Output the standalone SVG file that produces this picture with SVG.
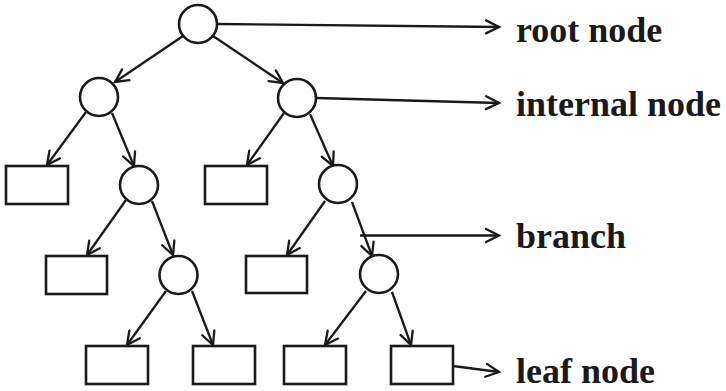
<svg xmlns="http://www.w3.org/2000/svg" width="726" height="391" viewBox="0 0 726 391">
<defs>
<marker id="arr" markerUnits="userSpaceOnUse" markerWidth="20" markerHeight="20" viewBox="-16 -10 20 20" refX="0" refY="0" orient="auto">
<path d="M-13,-6.5 L0,0 L-13,6.5" fill="none" stroke="#1a1a1a" stroke-width="2.3" stroke-linecap="round" stroke-linejoin="miter"/>
</marker>
<style>
.n{fill:#fff;stroke:#1a1a1a;stroke-width:2.6}
.e{fill:none;stroke:#1a1a1a;stroke-width:2.3;marker-end:url(#arr)}
.t{font-family:"Liberation Serif","Times New Roman",serif;font-weight:bold;font-size:36px;fill:#1a1a1a}
</style>
</defs>
<rect width="726" height="391" fill="#fff"/>
<g id="connectors">
<line class="e" x1="183" y1="36" x2="115" y2="82"/>
<line class="e" x1="213" y1="36" x2="283" y2="83"/>
<line class="e" x1="86" y1="112" x2="47" y2="165"/>
<line class="e" x1="112" y1="113" x2="134" y2="166"/>
<line class="e" x1="284" y1="113" x2="247" y2="165"/>
<line class="e" x1="310" y1="114" x2="333" y2="166"/>
<line class="e" x1="126" y1="200" x2="87" y2="255"/>
<line class="e" x1="152" y1="201" x2="173" y2="255"/>
<line class="e" x1="325" y1="201" x2="287" y2="255"/>
<line class="e" x1="352" y1="202" x2="372" y2="256"/>
<line class="e" x1="166" y1="291" x2="127" y2="345"/>
<line class="e" x1="192" y1="291" x2="213" y2="345"/>
<line class="e" x1="366" y1="291" x2="325" y2="345"/>
<line class="e" x1="392" y1="292" x2="411" y2="345"/>
<line class="e" x1="217" y1="24" x2="499" y2="27"/>
<line class="e" x1="316" y1="98" x2="499" y2="103"/>
<line class="e" x1="360" y1="235.5" x2="499" y2="235.5"/>
<line class="e" x1="453" y1="366" x2="499" y2="372"/>
</g>
<g id="root"><circle class="n" cx="198" cy="24" r="19"/></g>
<g id="n1"><circle class="n" cx="99" cy="97" r="19"/></g>
<g id="n2"><circle class="n" cx="297" cy="98" r="19"/></g>
<g id="l1"><rect class="n" x="6" y="166" width="62" height="38"/></g>
<g id="n3"><circle class="n" cx="139" cy="185" r="19"/></g>
<g id="l2"><rect class="n" x="205" y="166" width="62" height="38"/></g>
<g id="n4"><circle class="n" cx="338" cy="184" r="19"/></g>
<g id="l3"><rect class="n" x="46" y="256" width="61" height="38"/></g>
<g id="n5"><circle class="n" cx="178.5" cy="275" r="19"/></g>
<g id="l4"><rect class="n" x="246" y="256" width="61" height="37"/></g>
<g id="n6"><circle class="n" cx="379" cy="274" r="19"/></g>
<g id="l5"><rect class="n" x="86" y="346" width="62" height="38"/></g>
<g id="l6"><rect class="n" x="193" y="346" width="62" height="38"/></g>
<g id="l7"><rect class="n" x="284" y="346" width="62" height="38"/></g>
<g id="l8"><rect class="n" x="391" y="346" width="62" height="38"/></g>
<g id="labels">
<text class="t" x="516" y="42">root node</text>
<text class="t" x="516" y="116">internal node</text>
<text class="t" x="516" y="248">branch</text>
<text class="t" x="516" y="383">leaf node</text>
</g>
</svg>
